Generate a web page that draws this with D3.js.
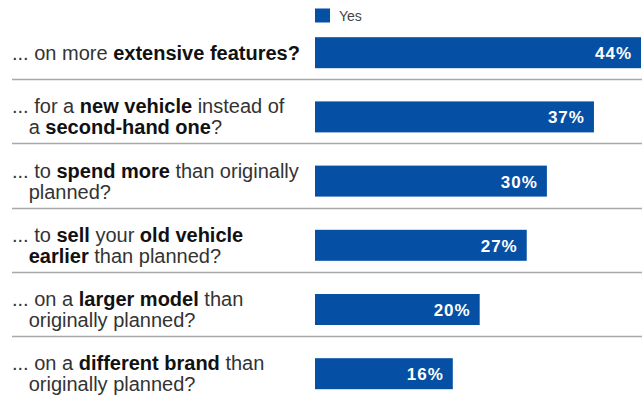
<!DOCTYPE html>
<html>
<head>
<meta charset="utf-8">
<script src="https://cdn.jsdelivr.net/npm/d3@7/dist/d3.min.js"></script>
<style>
  html, body { margin: 0; padding: 0; background: #fff; }
  svg { display: block; font-family: "Liberation Sans", Arial, sans-serif; }
</style>
</head>
<body>
<svg id="chart" width="642" height="395"></svg>
<script>
// Survey questions; **...** marks bold runs, \n breaks a line
const questions = [
  "... on more **extensive features?**",
  "... for a **new vehicle** instead of\na **second-hand one**?",
  "... to **spend more** than originally\nplanned?",
  "... to **sell** your **old vehicle**\n**earlier** than planned?",
  "... on a **larger model** than\noriginally planned?",
  "... on a **different brand** than\noriginally planned?"
];
const yesShare = [44, 37, 30, 27, 20, 16];
const seriesName = "Yes";

const W = 642, H = 395;
const barColor = "#0550a5";
const barLeft = 315;
const svg = d3.select("#chart");

const ids = questions.map((q, i) => i);
const x = d3.scaleLinear().domain([-4.5, 44]).range([barLeft, 641]);
const y = d3.scalePoint().domain(ids).range([52.7, 373.7]);
const barH = 31;

// legend
const lg = svg.append("g");
lg.append("rect").attr("x", barLeft).attr("y", 8.5).attr("width", 15).attr("height", 14).attr("fill", barColor);
lg.append("text").attr("x", 339).attr("y", 21).attr("font-size", 14).attr("fill", "#444").text(seriesName);

// separators between rows
const seps = ids.slice(0, -1);
svg.append("g").selectAll("line").data(seps).join("line")
  .attr("x1", 12).attr("x2", W)
  .attr("y1", d => Math.round(y(d) + 26.5) + 0.5)
  .attr("y2", d => Math.round(y(d) + 26.5) + 0.5)
  .attr("stroke", "#a8a8a8").attr("stroke-width", 1.5);

// bars
const rows = svg.append("g").selectAll("g").data(ids).join("g");
rows.append("rect")
  .attr("x", barLeft)
  .attr("y", d => y(d) - barH / 2)
  .attr("width", d => x(yesShare[d]) - barLeft)
  .attr("height", barH)
  .attr("fill", barColor);

rows.append("text")
  .attr("x", d => x(yesShare[d]) - 9)
  .attr("y", d => y(d) + 6.5)
  .attr("text-anchor", "end")
  .attr("font-size", 17)
  .attr("font-weight", "bold")
  .attr("fill", "#fff")
  .attr("letter-spacing", 1)
  .text(d => yesShare[d] + "%");

// question labels
const fs = 20, lineGap = 21;
const probe = svg.append("text").attr("font-size", fs).text("... ");
const indent = probe.node().getComputedTextLength();
probe.remove();

rows.each(function(d) {
  const lines = questions[d].split("\n");
  const t = d3.select(this).append("text").attr("font-size", fs).attr("fill", "#222");
  const y0 = y(d) + 7 - (lines.length - 1) * lineGap / 2;
  lines.forEach((ln, li) => {
    const parts = ln.split("**");
    parts.forEach((p, pi) => {
      if (!p) return;
      const ts = t.append("tspan").text(p)
        .attr("font-weight", pi % 2 ? "bold" : "normal")
        .attr("fill", pi % 2 ? "#111" : "#333");
      if (pi === 0 || (pi === 1 && parts[0] === "")) {
        ts.attr("x", li === 0 ? 12 : 12 + indent).attr("y", y0 + li * lineGap);
      }
    });
  });
});
</script>
</body>
</html>
